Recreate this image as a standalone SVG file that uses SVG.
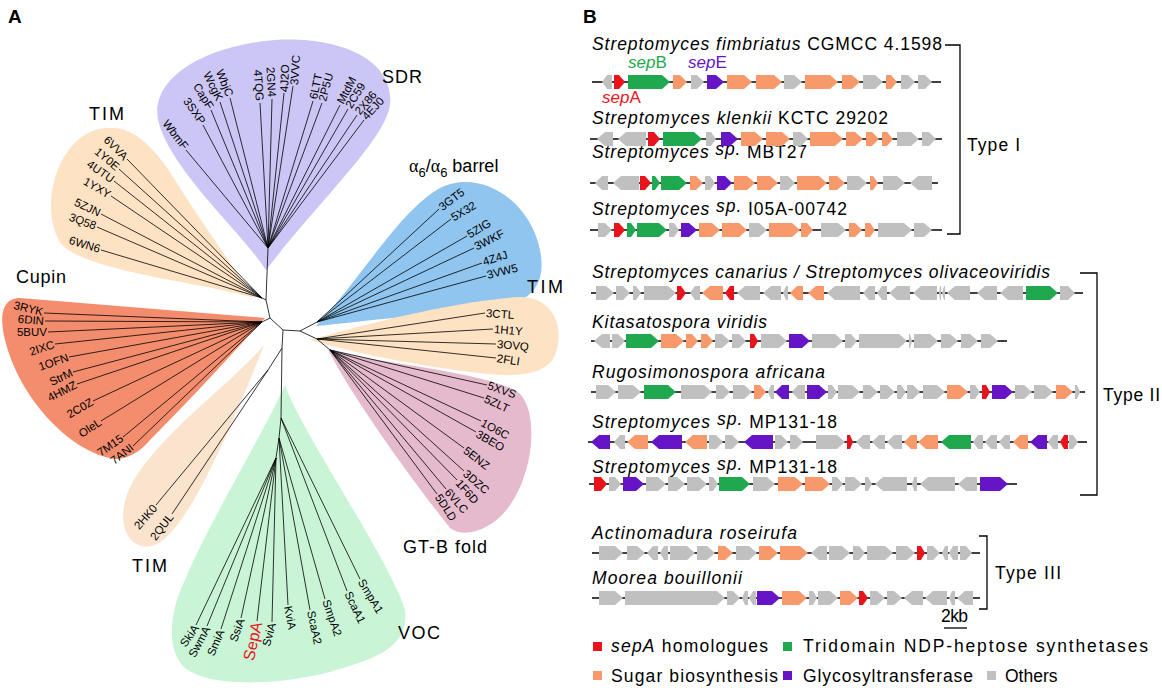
<svg xmlns="http://www.w3.org/2000/svg" width="1162" height="688" viewBox="0 0 1162 688">
<style>
text{font-family:"Liberation Sans",Arial,Helvetica,sans-serif;fill:#000}
.leaf{font-size:11.5px}
.clade{font-size:18px}
.ti{font-size:17.5px}
.sm{font-size:17px}
.it{font-style:italic}
.tree path{stroke:#000;stroke-width:0.8;fill:none}
.ax{stroke:#000;stroke-width:1.6}
.r{fill:#e8141c}.gr{fill:#1fa84e}.o{fill:#f8996b}.p{fill:#6515c6}.g{fill:#c0c0c0}
.bk{stroke:#000;stroke-width:1.3;fill:none}
.end{text-anchor:end}
</style>
<rect width="1162" height="688" fill="#fff"/>

<!-- Panel A blobs -->
<g id="blobs">
<path id="blob-sdr" d="M266,270 C240,230 170,170 158,120 C150,75 210,45 275,40 C340,36 395,60 390,105 C385,140 320,200 266,270 Z" fill="#cbc6f6"/>
<path id="blob-tim1" d="M255,298 C200,282 90,272 62,245 C40,215 52,150 90,132 C125,118 150,140 175,180 C200,220 235,270 255,298 Z" fill="#fde2c3"/>
<path id="blob-cupin" d="M265,318 L20,298 C0,298 0,320 5,340 C20,400 70,450 110,458 C125,462 140,452 150,440 C200,390 240,345 265,318 Z" fill="#f48d6d"/>
<path id="blob-tim3" d="M264,345 C235,380 165,430 135,478 C112,515 125,552 152,546 C178,540 215,470 264,345 Z" fill="#fbe4cd"/>
<path id="blob-voc" d="M285,385 C300,430 390,560 405,610 C410,650 370,660 330,672 C280,685 210,688 185,668 C165,650 170,610 185,580 C210,520 260,440 285,385 Z" fill="#c9f5d6"/>
<path id="blob-barrel" d="M316,326 C360,280 400,210 440,188 C480,168 530,200 540,250 C548,290 525,305 490,308 C430,313 360,322 316,326 Z" fill="#8fc5ef"/>
<path id="blob-tim2" d="M310,340 C360,325 460,300 520,297 C555,297 565,330 555,355 C548,372 525,376 500,375 C440,370 360,355 310,340 Z" fill="#fde2c3"/>
<path id="blob-gtb" d="M328,350 C390,365 470,370 515,390 C540,405 535,470 510,505 C495,528 465,540 450,528 C420,490 360,410 328,350 Z" fill="#e6bacd"/>
</g>

<!-- Tree connectors -->
<g id="connectors" class="tree">
<path d="M268,248 L266,300 L270,318 L283,330 L300,331 M270,318 L262,322 M266,300 L262,298 M300,331 L317,322 M300,331 L317,339 L330,350 M283,330 L282,348 L281,418 L279,438 L276,458 M282,348 L268,370"/>
<path d="M186,150 L268,248 M203,125 L268,248 M211,110 L268,248 M220,102 L268,248 M230,98 L268,248 M260,103 L268,248 M272,99 L268,248 M284,93 L268,248 M293,86 L268,248 M313,101 L268,248 M322,103 L268,248 M340,105 L268,248 M348,109 L268,248 M357,115 L268,248 M364,120 L268,248"/>
<path d="M127,159 L262,298 M119,169 L262,298 M114,181 L262,298 M111,196 L262,298 M101,214 L262,298 M97,227 L262,298 M101,250 L262,298"/>
<path d="M44,313 L262,322 M45,321 L262,322 M48,332 L262,322 M55,344 L262,322 M69,357 L262,322 M73,372 L262,322 M77,384 L262,322 M93,401 L262,322 M101,421 L262,322 M123,437 L262,322 M133,446 L262,322"/>
<path d="M439,209 L317,322 M451,219 L317,322 M467,236 L317,322 M474,248 L317,322 M482,263 L317,322 M486,276 L317,322"/>
<path d="M485,313 L317,339 M493,329 L317,339 M496,344 L317,339 M496,358 L317,339"/>
<path d="M487,385 L330,350 M484,398 L330,350 M481,421 L330,350 M476,432 L330,350 M464,448 L330,350 M464,471 L330,350 M457,480 L330,350 M446,489 L330,350 M437,494 L330,350"/>
<path d="M156,505 L268,370 M172,514 L268,370"/>
<path d="M281,418 L360,579 M281,418 L347,591 M279,438 L325,599 M279,438 L310,610 M279,438 L288,605 M276,458 L272,622 M276,458 L257,621 M276,458 L241,618 M276,458 L221,629 M276,458 L207,626 M276,458 L196,625"/>
</g>

<!-- Panel A labels -->
<g id="labels-A">
<text x="8" y="23" font-size="19" font-weight="bold">A</text>
<text class="clade" x="382" y="83" textLength="40">SDR</text>
<text class="clade" x="89" y="120" textLength="35">TIM</text>
<text class="clade" x="16" y="283" textLength="50">Cupin</text>
<text class="clade" x="132" y="572" textLength="35">TIM</text>
<text class="clade" x="398" y="639" textLength="42">VOC</text>
<text class="clade" x="403" y="553" textLength="84">GT-B fold</text>
<text class="clade" x="527" y="293" textLength="36">TIM</text>
<text class="clade" x="409" y="172"><tspan font-family="Liberation Serif,serif">α</tspan><tspan font-size="13" dy="5">6</tspan><tspan dy="-5">/</tspan><tspan font-family="Liberation Serif,serif">α</tspan><tspan font-size="13" dy="5">6</tspan><tspan dy="-5"> barrel</tspan></text>
</g>

<g id="leaves-sdr">
<text class="leaf end" transform="translate(186,148) rotate(52)" dy=".35em">WbmF</text>
<text class="leaf end" transform="translate(203,123) rotate(55)" dy=".35em">3SXP</text>
<text class="leaf end" transform="translate(211,108) rotate(58)" dy=".35em">CapF</text>
<text class="leaf end" transform="translate(220,100) rotate(64)" dy=".35em">WcgK</text>
<text class="leaf end" transform="translate(230,96) rotate(68)" dy=".35em">WbjC</text>
<text class="leaf end" transform="translate(260,101) rotate(86)" dy=".35em">4TQG</text>
<text class="leaf end" transform="translate(272,97) rotate(87)" dy=".35em">2GN4</text>
<text class="leaf" transform="translate(284,92) rotate(-88)" dy=".35em">4J2O</text>
<text class="leaf" transform="translate(294,85) rotate(-86)" dy=".35em">3VVC</text>
<text class="leaf" transform="translate(313,99) rotate(-78)" dy=".35em">6LTT</text>
<text class="leaf" transform="translate(322,101) rotate(-75)" dy=".35em">2P5U</text>
<text class="leaf" transform="translate(340,103) rotate(-63)" dy=".35em">MtdM</text>
<text class="leaf" transform="translate(348,107) rotate(-58)" dy=".35em">2C59</text>
<text class="leaf" transform="translate(357,113) rotate(-50)" dy=".35em">2X86</text>
<text class="leaf" transform="translate(364,118) rotate(-47)" dy=".35em">4EJ0</text>
</g>

<g id="leaves-tim1">
<text class="leaf end" transform="translate(126,158) rotate(45)" dy=".35em">6VVA</text>
<text class="leaf end" transform="translate(118,168) rotate(40)" dy=".35em">1Y0E</text>
<text class="leaf end" transform="translate(113,180) rotate(35)" dy=".35em">4UTU</text>
<text class="leaf end" transform="translate(110,195) rotate(30)" dy=".35em">1YXY</text>
<text class="leaf end" transform="translate(100,213) rotate(25)" dy=".35em">5ZJN</text>
<text class="leaf end" transform="translate(96,226) rotate(20)" dy=".35em">3Q58</text>
<text class="leaf end" transform="translate(100,249) rotate(17)" dy=".35em">6WN6</text>
</g>

<g id="leaves-cupin">
<text class="leaf end" transform="translate(43,312) rotate(14)" dy=".35em">3RYK</text>
<text class="leaf end" transform="translate(44,321) rotate(5)" dy=".35em">6DIN</text>
<text class="leaf end" transform="translate(47,332) rotate(0)" dy=".35em">5BUV</text>
<text class="leaf end" transform="translate(54,344) rotate(-18)" dy=".35em">2IXC</text>
<text class="leaf end" transform="translate(68,357) rotate(-19)" dy=".35em">1OFN</text>
<text class="leaf end" transform="translate(72,372) rotate(-25)" dy=".35em">StrM</text>
<text class="leaf end" transform="translate(76,384) rotate(-27)" dy=".35em">4HMZ</text>
<text class="leaf end" transform="translate(92,401) rotate(-30)" dy=".35em">2C0Z</text>
<text class="leaf end" transform="translate(100,421) rotate(-34)" dy=".35em">OleL</text>
<text class="leaf end" transform="translate(122,437) rotate(-35)" dy=".35em">7M15</text>
<text class="leaf end" transform="translate(132,446) rotate(-38)" dy=".35em">7ANI</text>
</g>

<g id="leaves-tim3">
<text class="leaf end" transform="translate(155,506) rotate(-49)" dy=".35em">2HK0</text>
<text class="leaf end" transform="translate(171,515) rotate(-52)" dy=".35em">2QUL</text>
</g>

<g id="leaves-voc">
<text class="leaf end" transform="translate(196,626) rotate(-55)" dy=".35em">SkiA</text>
<text class="leaf end" transform="translate(207,627) rotate(-62)" dy=".35em">SwmA</text>
<text class="leaf end" transform="translate(221,630) rotate(-67)" dy=".35em">SmiA</text>
<text class="leaf end" transform="translate(241,619) rotate(-70)" dy=".35em">SsiA</text>
<text class="end" transform="translate(257,622) rotate(-77)" dy=".35em" font-size="16" style="fill:#e8141c">SepA</text>
<text class="leaf end" transform="translate(272,623) rotate(-75)" dy=".35em">SviA</text>
<text class="leaf" transform="translate(288,606) rotate(79)" dy=".35em">KviA</text>
<text class="leaf" transform="translate(311,611) rotate(78)" dy=".35em">ScaA2</text>
<text class="leaf" transform="translate(326,600) rotate(71)" dy=".35em">SmpA2</text>
<text class="leaf" transform="translate(348,592) rotate(65)" dy=".35em">ScaA1</text>
<text class="leaf" transform="translate(361,580) rotate(59)" dy=".35em">SmpA1</text>
</g>

<g id="leaves-barrel">
<text class="leaf" transform="translate(440,208) rotate(-37)" dy=".35em">3GT5</text>
<text class="leaf" transform="translate(452,218) rotate(-31)" dy=".35em">5X32</text>
<text class="leaf" transform="translate(468,235) rotate(-31)" dy=".35em">5ZIG</text>
<text class="leaf" transform="translate(475,247) rotate(-27)" dy=".35em">3WKF</text>
<text class="leaf" transform="translate(483,262) rotate(-18)" dy=".35em">4Z4J</text>
<text class="leaf" transform="translate(487,275) rotate(-14)" dy=".35em">3VW5</text>
</g>

<g id="leaves-tim2">
<text class="leaf" transform="translate(486,313) rotate(4)" dy=".35em">3CTL</text>
<text class="leaf" transform="translate(494,329) rotate(5)" dy=".35em">1H1Y</text>
<text class="leaf" transform="translate(497,344) rotate(5)" dy=".35em">3OVQ</text>
<text class="leaf" transform="translate(497,358) rotate(9)" dy=".35em">2FLI</text>
</g>

<g id="leaves-gtb">
<text class="leaf" transform="translate(488,385) rotate(19)" dy=".35em">5XVS</text>
<text class="leaf" transform="translate(485,398) rotate(25)" dy=".35em">5ZLT</text>
<text class="leaf" transform="translate(482,422) rotate(28)" dy=".35em">1O6C</text>
<text class="leaf" transform="translate(477,433) rotate(30)" dy=".35em">3BEO</text>
<text class="leaf" transform="translate(465,449) rotate(38)" dy=".35em">5ENZ</text>
<text class="leaf" transform="translate(465,472) rotate(41)" dy=".35em">3DZC</text>
<text class="leaf" transform="translate(458,481) rotate(49)" dy=".35em">1F6D</text>
<text class="leaf" transform="translate(447,490) rotate(49)" dy=".35em">6VLC</text>
<text class="leaf" transform="translate(438,495) rotate(57)" dy=".35em">5DLD</text>
</g>

<!-- Panel B -->
<g id="labels-B">
<text x="583" y="23" font-size="19" font-weight="bold">B</text>
<text class="ti" x="592" y="50" textLength="350"><tspan class="it">Streptomyces fimbriatus</tspan> CGMCC 4.1598</text>
<text class="sm" x="628" y="68" style="fill:#1fa84e"><tspan class="it">sep</tspan>B</text>
<text class="sm" x="688" y="68" style="fill:#6515c6"><tspan class="it">sep</tspan>E</text>
<text class="sm" x="602" y="103" style="fill:#e8141c"><tspan class="it">sep</tspan>A</text>
<text class="ti" x="592" y="124" textLength="296"><tspan class="it">Streptomyces klenkii</tspan> KCTC 29202</text>
<text class="ti" x="592" y="158" textLength="215"><tspan class="it">Streptomyces </tspan><tspan class="it" dy="-3">sp.</tspan><tspan dy="3"> MBT27</tspan></text>
<text class="ti" x="592" y="215" textLength="255"><tspan class="it">Streptomyces </tspan><tspan class="it" dy="-3">sp.</tspan><tspan dy="3"> I05A-00742</tspan></text>
<text class="ti it" x="592" y="278" textLength="458">Streptomyces canarius / Streptomyces olivaceoviridis</text>
<text class="ti it" x="592" y="328" textLength="175">Kitasatospora viridis</text>
<text class="ti it" x="592" y="378" textLength="233">Rugosimonospora africana</text>
<text class="ti" x="592" y="428" textLength="245"><tspan class="it">Streptomyces </tspan><tspan class="it" dy="-3">sp.</tspan><tspan dy="3"> MP131-18</tspan></text>
<text class="ti" x="592" y="473" textLength="245"><tspan class="it">Streptomyces </tspan><tspan class="it" dy="-3">sp.</tspan><tspan dy="3"> MP131-18</tspan></text>
<text class="ti it" x="592" y="539" textLength="205">Actinomadura roseirufa</text>
<text class="ti it" x="592" y="584" textLength="150">Moorea bouillonii</text>
<text class="ti" x="967" y="151" textLength="53">Type I</text>
<text class="ti" x="1103" y="401" textLength="57">Type II</text>
<text class="ti" x="995" y="579" textLength="66">Type III</text>
<text class="ti" x="941" y="622" textLength="27">2kb</text>
</g>

<g id="brackets">
<path class="bk" d="M945,45 H960 V234 H947"/>
<path class="bk" d="M1080,273 H1097 V495 H1080"/>
<path class="bk" d="M979,536 H987 V609 H979"/>
<line x1="944" y1="628" x2="967" y2="628" stroke="#000" stroke-width="1.3"/>
</g>

<!-- Type I rows -->
<g id="row-I-1" transform="translate(0,82)">
<line class="ax" x1="592" y1="0" x2="941" y2="0"/>
<polygon class="g" points="602,0 607,-7 612,-7 612,7 607,7"/>
<polygon class="r" points="614,-7 619,-7 625,0 619,7 614,7"/>
<polygon class="gr" points="628,-7 662,-7 670,0 662,7 628,7"/>
<polygon class="o" points="673,-7 680,-7 687,0 680,7 673,7"/>
<polygon class="g" points="691,-7 697,-7 704,0 697,7 691,7"/>
<polygon class="p" points="707,-7 716,-7 724,0 716,7 707,7"/>
<polygon class="o" points="727,-7 744,-7 752,0 744,7 727,7"/>
<polygon class="o" points="756,-7 774,-7 782,0 774,7 756,7"/>
<polygon class="g" points="784,-7 794,-7 802,0 794,7 784,7"/>
<polygon class="o" points="805,-7 830,-7 838,0 830,7 805,7"/>
<polygon class="o" points="842,-7 852,-7 860,0 852,7 842,7"/>
<polygon class="g" points="863,-7 875,-7 883,0 875,7 863,7"/>
<polygon class="o" points="886,-7 891,-7 897,0 891,7 886,7"/>
<polygon class="g" points="901,-7 908,-7 915,0 908,7 901,7"/>
<polygon class="g" points="918,-7 925,-7 932,0 925,7 918,7"/>
</g>
<g id="row-I-2" transform="translate(0,139)">
<line class="ax" x1="590" y1="0" x2="942" y2="0"/>
<polygon class="g" points="597,0 605,-7 613,-7 613,7 605,7"/>
<polygon class="g" points="618,0 626,-7 646,-7 646,7 626,7"/>
<polygon class="r" points="648,-7 654,-7 660,0 654,7 648,7"/>
<polygon class="gr" points="663,-7 694,-7 702,0 694,7 663,7"/>
<polygon class="g" points="706,-7 711,-7 716,0 711,7 706,7"/>
<polygon class="p" points="721,-7 730,-7 738,0 730,7 721,7"/>
<polygon class="o" points="741,-7 755,-7 763,0 755,7 741,7"/>
<polygon class="o" points="766,-7 782,-7 790,0 782,7 766,7"/>
<polygon class="g" points="793,-7 801,-7 808,0 801,7 793,7"/>
<polygon class="o" points="810,-7 835,-7 843,0 835,7 810,7"/>
<polygon class="o" points="846,-7 855,-7 863,0 855,7 846,7"/>
<polygon class="o" points="866,-7 872,-7 879,0 872,7 866,7"/>
<polygon class="o" points="882,-7 887,-7 893,0 887,7 882,7"/>
<polygon class="g" points="897,-7 911,-7 919,0 911,7 897,7"/>
<polygon class="g" points="922,-7 929,-7 936,0 929,7 922,7"/>
</g>
<g id="row-I-3" transform="translate(0,183)">
<line class="ax" x1="590" y1="0" x2="938" y2="0"/>
<polygon class="g" points="595,0 602,-7 608,-7 608,7 602,7"/>
<polygon class="g" points="613,0 621,-7 639,-7 639,7 621,7"/>
<polygon class="r" points="640,-7 645,-7 651,0 645,7 640,7"/>
<polygon class="gr" points="652,-7 655,-7 660,0 655,7 652,7"/>
<polygon class="gr" points="661,-7 679,-7 687,0 679,7 661,7"/>
<polygon class="o" points="690,-7 696,-7 703,0 696,7 690,7"/>
<polygon class="g" points="705,-7 710,-7 715,0 710,7 705,7"/>
<polygon class="p" points="717,-7 725,-7 732,0 725,7 717,7"/>
<polygon class="o" points="734,-7 747,-7 755,0 747,7 734,7"/>
<polygon class="o" points="757,-7 770,-7 778,0 770,7 757,7"/>
<polygon class="g" points="780,-7 788,-7 795,0 788,7 780,7"/>
<polygon class="o" points="797,-7 819,-7 827,0 819,7 797,7"/>
<polygon class="o" points="829,-7 837,-7 845,0 837,7 829,7"/>
<polygon class="g" points="847,-7 859,-7 867,0 859,7 847,7"/>
<polygon class="o" points="870,-7 873,-7 878,0 873,7 870,7"/>
<polygon class="g" points="883,-7 897,-7 905,0 897,7 883,7"/>
<polygon class="g" points="910,0 918,-7 932,-7 932,7 918,7"/>
</g>
<g id="row-I-4" transform="translate(0,230)">
<line class="ax" x1="590" y1="0" x2="942" y2="0"/>
<polygon class="g" points="598,-7 605,-7 612,0 605,7 598,7"/>
<polygon class="r" points="614,-7 619,-7 625,0 619,7 614,7"/>
<polygon class="gr" points="627,-7 631,-7 636,0 631,7 627,7"/>
<polygon class="gr" points="637,-7 659,-7 667,0 659,7 637,7"/>
<polygon class="g" points="669,-7 674,-7 679,0 674,7 669,7"/>
<polygon class="p" points="681,-7 689,-7 697,0 689,7 681,7"/>
<polygon class="o" points="699,-7 712,-7 720,0 712,7 699,7"/>
<polygon class="o" points="722,-7 739,-7 747,0 739,7 722,7"/>
<polygon class="g" points="749,-7 759,-7 767,0 759,7 749,7"/>
<polygon class="o" points="769,-7 792,-7 800,0 792,7 769,7"/>
<polygon class="o" points="801,-7 807,-7 813,0 807,7 801,7"/>
<polygon class="g" points="821,-7 838,-7 846,0 838,7 821,7"/>
<polygon class="o" points="849,-7 855,-7 862,0 855,7 849,7"/>
<polygon class="o" points="865,-7 870,-7 875,0 870,7 865,7"/>
<polygon class="g" points="878,-7 904,-7 912,0 904,7 878,7"/>
<polygon class="g" points="914,-7 924,-7 932,0 924,7 914,7"/>
</g>

<!-- Type II rows -->
<g id="row-II-1" transform="translate(0,293)">
<line class="ax" x1="591" y1="0" x2="1083" y2="0"/>
<polygon class="g" points="596,-7 606,-7 614,0 606,7 596,7"/>
<polygon class="g" points="616,-7 623,-7 630,0 623,7 616,7"/>
<polygon class="g" points="633,-7 636,-7 641,0 636,7 633,7"/>
<polygon class="g" points="644,-7 668,-7 676,0 668,7 644,7"/>
<polygon class="r" points="677,-7 681,-7 686,0 681,7 677,7"/>
<polygon class="g" points="690,0 695,-7 700,-7 700,7 695,7"/>
<polygon class="o" points="702,0 710,-7 723,-7 723,7 710,7"/>
<polygon class="r" points="725,0 730,-7 734,-7 734,7 730,7"/>
<polygon class="g" points="737,0 745,-7 760,-7 760,7 745,7"/>
<polygon class="g" points="763,0 771,-7 781,-7 781,7 771,7"/>
<polygon class="g" points="783,0 786,-7 788,-7 788,7 786,7"/>
<polygon class="o" points="790,0 797,-7 803,-7 803,7 797,7"/>
<polygon class="o" points="808,0 816,-7 824,-7 824,7 816,7"/>
<polygon class="g" points="827,0 835,-7 860,-7 860,7 835,7"/>
<polygon class="g" points="863,0 869,-7 875,-7 875,7 869,7"/>
<polygon class="g" points="877,0 882,-7 887,-7 887,7 882,7"/>
<polygon class="g" points="889,0 897,-7 910,-7 910,7 897,7"/>
<polygon class="g" points="913,0 921,-7 937,-7 937,7 921,7"/>
<polygon class="g" points="939,0 940,-7 941,-7 941,7 940,7"/>
<polygon class="g" points="942,0 944,-7 945,-7 945,7 944,7"/>
<polygon class="g" points="947,0 955,-7 970,-7 970,7 955,7"/>
<polygon class="g" points="977,0 985,-7 997,-7 997,7 985,7"/>
<polygon class="g" points="1000,0 1008,-7 1023,-7 1023,7 1008,7"/>
<polygon class="gr" points="1026,-7 1050,-7 1058,0 1050,7 1026,7"/>
<polygon class="g" points="1060,-7 1068,-7 1075,0 1068,7 1060,7"/>
</g>
<g id="row-II-2" transform="translate(0,341)">
<line class="ax" x1="591" y1="0" x2="1007" y2="0"/>
<polygon class="g" points="594,0 602,-7 610,-7 610,7 602,7"/>
<polygon class="g" points="612,-7 618,-7 625,0 618,7 612,7"/>
<polygon class="gr" points="626,-7 651,-7 659,0 651,7 626,7"/>
<polygon class="o" points="661,-7 676,-7 684,0 676,7 661,7"/>
<polygon class="o" points="686,-7 692,-7 698,0 692,7 686,7"/>
<polygon class="o" points="701,-7 707,-7 713,0 707,7 701,7"/>
<polygon class="g" points="715,-7 722,-7 730,0 722,7 715,7"/>
<polygon class="g" points="732,-7 739,-7 746,0 739,7 732,7"/>
<polygon class="r" points="750,-7 754,-7 758,0 754,7 750,7"/>
<polygon class="g" points="761,-7 779,-7 787,0 779,7 761,7"/>
<polygon class="p" points="789,-7 802,-7 810,0 802,7 789,7"/>
<polygon class="g" points="812,-7 835,-7 843,0 835,7 812,7"/>
<polygon class="g" points="845,-7 851,-7 857,0 851,7 845,7"/>
<polygon class="g" points="859,-7 899,-7 907,0 899,7 859,7"/>
<polygon class="g" points="909,-7 910,-7 912,0 910,7 909,7"/>
<polygon class="g" points="914,-7 930,-7 938,0 930,7 914,7"/>
<polygon class="g" points="941,-7 950,-7 958,0 950,7 941,7"/>
<polygon class="g" points="961,-7 970,-7 978,0 970,7 961,7"/>
<polygon class="g" points="981,-7 990,-7 998,0 990,7 981,7"/>
</g>
<g id="row-II-3" transform="translate(0,392)">
<line class="ax" x1="591" y1="0" x2="1085" y2="0"/>
<polygon class="g" points="596,-7 608,-7 616,0 608,7 596,7"/>
<polygon class="g" points="618,-7 633,-7 641,0 633,7 618,7"/>
<polygon class="gr" points="644,-7 668,-7 676,0 668,7 644,7"/>
<polygon class="g" points="681,-7 704,-7 712,0 704,7 681,7"/>
<polygon class="g" points="716,-7 723,-7 730,0 723,7 716,7"/>
<polygon class="g" points="733,-7 744,-7 752,0 744,7 733,7"/>
<polygon class="o" points="754,-7 760,-7 766,0 760,7 754,7"/>
<polygon class="g" points="768,0 771,-7 774,-7 774,7 771,7"/>
<polygon class="p" points="775,0 782,-7 789,-7 789,7 782,7"/>
<polygon class="g" points="792,0 798,-7 805,-7 805,7 798,7"/>
<polygon class="p" points="807,-7 819,-7 827,0 819,7 807,7"/>
<polygon class="g" points="828,-7 832,-7 837,0 832,7 828,7"/>
<polygon class="g" points="838,-7 852,-7 860,0 852,7 838,7"/>
<polygon class="g" points="863,-7 870,-7 878,0 870,7 863,7"/>
<polygon class="g" points="880,-7 887,-7 895,0 887,7 880,7"/>
<polygon class="g" points="897,-7 901,-7 906,0 901,7 897,7"/>
<polygon class="g" points="907,-7 913,-7 920,0 913,7 907,7"/>
<polygon class="g" points="923,-7 937,-7 945,0 937,7 923,7"/>
<polygon class="o" points="947,-7 960,-7 968,0 960,7 947,7"/>
<polygon class="g" points="970,-7 975,-7 980,0 975,7 970,7"/>
<polygon class="r" points="982,-7 986,-7 990,0 986,7 982,7"/>
<polygon class="p" points="992,-7 1005,-7 1013,0 1005,7 992,7"/>
<polygon class="g" points="1015,-7 1024,-7 1032,0 1024,7 1015,7"/>
<polygon class="g" points="1034,-7 1045,-7 1053,0 1045,7 1034,7"/>
<polygon class="o" points="1056,-7 1065,-7 1073,0 1065,7 1056,7"/>
<polygon class="g" points="1075,-7 1077,-7 1080,0 1077,7 1075,7"/>
</g>
<g id="row-II-4" transform="translate(0,442)">
<line class="ax" x1="588" y1="0" x2="1087" y2="0"/>
<polygon class="p" points="591,0 599,-7 610,-7 610,7 599,7"/>
<polygon class="g" points="614,0 620,-7 625,-7 625,7 620,7"/>
<polygon class="o" points="627,0 635,-7 648,-7 648,7 635,7"/>
<polygon class="p" points="651,0 659,-7 682,-7 682,7 659,7"/>
<polygon class="o" points="685,0 693,-7 707,-7 707,7 693,7"/>
<polygon class="g" points="709,-7 716,-7 723,0 716,7 709,7"/>
<polygon class="g" points="725,-7 732,-7 739,0 732,7 725,7"/>
<polygon class="p" points="744,0 752,-7 773,-7 773,7 752,7"/>
<polygon class="g" points="775,-7 781,-7 788,0 781,7 775,7"/>
<polygon class="g" points="790,-7 796,-7 803,0 796,7 790,7"/>
<polygon class="g" points="816,-7 837,-7 845,0 837,7 816,7"/>
<polygon class="r" points="847,-7 850,-7 853,0 850,7 847,7"/>
<polygon class="g" points="856,0 863,-7 870,-7 870,7 863,7"/>
<polygon class="g" points="872,0 879,-7 885,-7 885,7 879,7"/>
<polygon class="g" points="887,0 894,-7 902,-7 902,7 894,7"/>
<polygon class="o" points="904,0 911,-7 917,-7 917,7 911,7"/>
<polygon class="o" points="918,0 926,-7 938,-7 938,7 926,7"/>
<polygon class="gr" points="941,0 949,-7 971,-7 971,7 949,7"/>
<polygon class="g" points="973,0 978,-7 983,-7 983,7 978,7"/>
<polygon class="g" points="985,0 991,-7 997,-7 997,7 991,7"/>
<polygon class="g" points="999,0 1005,-7 1010,-7 1010,7 1005,7"/>
<polygon class="o" points="1013,0 1020,-7 1028,-7 1028,7 1020,7"/>
<polygon class="p" points="1030,0 1038,-7 1047,-7 1047,7 1038,7"/>
<polygon class="g" points="1048,0 1053,-7 1058,-7 1058,7 1053,7"/>
<polygon class="r" points="1060,0 1064,-7 1068,-7 1068,7 1064,7"/>
<polygon class="g" points="1069,-7 1073,-7 1078,0 1073,7 1069,7"/>
</g>
<g id="row-II-5" transform="translate(0,484)">
<line class="ax" x1="589" y1="0" x2="1017" y2="0"/>
<polygon class="r" points="594,-7 601,-7 607,0 601,7 594,7"/>
<polygon class="g" points="609,-7 615,-7 621,0 615,7 609,7"/>
<polygon class="p" points="623,-7 636,-7 644,0 636,7 623,7"/>
<polygon class="g" points="646,-7 658,-7 666,0 658,7 646,7"/>
<polygon class="g" points="668,-7 677,-7 685,0 677,7 668,7"/>
<polygon class="g" points="687,-7 699,-7 707,0 699,7 687,7"/>
<polygon class="g" points="709,-7 713,-7 718,0 713,7 709,7"/>
<polygon class="gr" points="719,-7 742,-7 750,0 742,7 719,7"/>
<polygon class="g" points="753,-7 767,-7 775,0 767,7 753,7"/>
<polygon class="o" points="778,-7 795,-7 803,0 795,7 778,7"/>
<polygon class="o" points="805,-7 822,-7 830,0 822,7 805,7"/>
<polygon class="g" points="832,-7 837,-7 843,0 837,7 832,7"/>
<polygon class="g" points="845,-7 854,-7 862,0 854,7 845,7"/>
<polygon class="g" points="865,-7 868,-7 872,0 868,7 865,7"/>
<polygon class="g" points="875,0 883,-7 907,-7 907,7 883,7"/>
<polygon class="g" points="912,0 914,-7 917,-7 917,7 914,7"/>
<polygon class="g" points="920,0 928,-7 955,-7 955,7 928,7"/>
<polygon class="g" points="958,0 966,-7 977,-7 977,7 966,7"/>
<polygon class="p" points="980,-7 1000,-7 1008,0 1000,7 980,7"/>
</g>

<!-- Type III rows -->
<g id="row-III-1" transform="translate(0,553)">
<line class="ax" x1="592" y1="0" x2="980" y2="0"/>
<polygon class="g" points="599,-7 615,-7 623,0 615,7 599,7"/>
<polygon class="g" points="627,-7 637,-7 645,0 637,7 627,7"/>
<polygon class="g" points="647,0 653,-7 658,-7 658,7 653,7"/>
<polygon class="g" points="660,0 664,-7 668,-7 668,7 664,7"/>
<polygon class="g" points="670,-7 687,-7 695,0 687,7 670,7"/>
<polygon class="g" points="697,-7 707,-7 715,0 707,7 697,7"/>
<polygon class="o" points="718,-7 725,-7 733,0 725,7 718,7"/>
<polygon class="g" points="736,-7 749,-7 757,0 749,7 736,7"/>
<polygon class="o" points="759,-7 770,-7 778,0 770,7 759,7"/>
<polygon class="o" points="780,-7 800,-7 808,0 800,7 780,7"/>
<polygon class="g" points="811,0 819,-7 827,-7 827,7 819,7"/>
<polygon class="g" points="829,-7 842,-7 850,0 842,7 829,7"/>
<polygon class="g" points="853,-7 859,-7 865,0 859,7 853,7"/>
<polygon class="g" points="867,-7 885,-7 893,0 885,7 867,7"/>
<polygon class="g" points="896,-7 907,-7 915,0 907,7 896,7"/>
<polygon class="r" points="917,-7 921,-7 925,0 921,7 917,7"/>
<polygon class="g" points="927,-7 933,-7 940,0 933,7 927,7"/>
<polygon class="g" points="942,0 945,-7 948,-7 948,7 945,7"/>
<polygon class="g" points="949,0 953,-7 958,-7 958,7 953,7"/>
<polygon class="g" points="960,-7 966,-7 972,0 966,7 960,7"/>
</g>
<g id="row-III-2" transform="translate(0,598)">
<line class="ax" x1="592" y1="0" x2="980" y2="0"/>
<polygon class="g" points="599,-7 615,-7 623,0 615,7 599,7"/>
<polygon class="g" points="625,-7 717,-7 725,0 717,7 625,7"/>
<polygon class="g" points="727,-7 733,-7 740,0 733,7 727,7"/>
<polygon class="g" points="742,0 745,-7 748,-7 748,7 745,7"/>
<polygon class="g" points="749,0 753,-7 756,-7 756,7 753,7"/>
<polygon class="p" points="757,-7 772,-7 780,0 772,7 757,7"/>
<polygon class="o" points="782,-7 799,-7 807,0 799,7 782,7"/>
<polygon class="g" points="809,-7 813,-7 817,0 813,7 809,7"/>
<polygon class="g" points="818,-7 830,-7 838,0 830,7 818,7"/>
<polygon class="o" points="840,-7 850,-7 858,0 850,7 840,7"/>
<polygon class="r" points="859,-7 863,-7 868,0 863,7 859,7"/>
<polygon class="g" points="870,-7 877,-7 885,0 877,7 870,7"/>
<polygon class="g" points="887,-7 894,-7 902,0 894,7 887,7"/>
<polygon class="g" points="904,0 912,-7 923,-7 923,7 912,7"/>
<polygon class="g" points="925,0 933,-7 947,-7 947,7 933,7"/>
<polygon class="g" points="949,0 952,-7 955,-7 955,7 952,7"/>
<polygon class="g" points="957,0 965,-7 973,-7 973,7 965,7"/>
</g>

<!-- Legend -->
<g id="legend">
<rect class="r" x="593" y="642" width="9" height="9"/>
<text class="ti" x="611" y="652" textLength="157"><tspan class="it">sepA</tspan> homologues</text>
<rect class="gr" x="783" y="642" width="9" height="9"/>
<text class="ti" x="803" y="652" textLength="345">Tridomain NDP-heptose synthetases</text>
<rect class="o" x="593" y="671" width="9" height="9"/>
<text class="ti" x="611" y="682" textLength="167">Sugar biosynthesis</text>
<rect class="p" x="783" y="671" width="9" height="9"/>
<text class="ti" x="803" y="682" textLength="170">Glycosyltransferase</text>
<rect class="g" x="987" y="671" width="9" height="9"/>
<text class="ti" x="1005" y="682">Others</text>
</g>
</svg>
